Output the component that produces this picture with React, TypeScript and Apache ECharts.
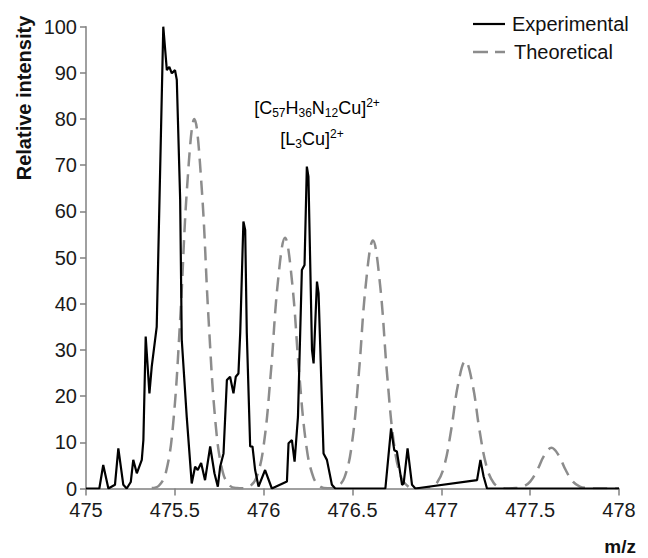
import React, { useEffect, useRef } from "react";
import * as echarts from "echarts";

// Measured spectrum (m/z, relative intensity)
const expMz = [
  475.0, 475.075, 475.097, 475.126, 475.163, 475.182, 475.21, 475.229, 475.252, 475.266,
  475.286, 475.314, 475.323, 475.336, 475.357, 475.37, 475.398, 475.435, 475.455, 475.469,
  475.483, 475.501, 475.511, 475.53, 475.539, 475.567, 475.595, 475.614, 475.629, 475.648,
  475.67, 475.699, 475.723, 475.742, 475.755, 475.774, 475.793, 475.811, 475.83, 475.843,
  475.858, 475.868, 475.886, 475.896, 475.905, 475.924, 475.937, 475.952, 475.971, 476.008,
  476.046, 476.131, 476.14, 476.159, 476.174, 476.193, 476.215, 476.23, 476.243, 476.252,
  476.272, 476.281, 476.3, 476.309, 476.337, 476.356, 476.384, 476.403, 476.685, 476.717,
  476.735, 476.75, 476.779, 476.788, 476.81, 476.835, 476.854, 477.201, 477.22, 477.238,
  477.257, 478.0,
];
const expIntensity = [
  0, 0, 5.1, 0, 0.8, 8.7, 0.8, 0, 1.4, 6.2,
  3.3, 6.2, 10.5, 32.9, 20.6, 26.4, 35, 100, 90.6, 91.3,
  89.9, 90.6, 88.5, 62.5, 32.2, 15.5, 1.1, 4.7, 4, 5.5,
  1.8, 9.1, 3.3, 0.4, 4.7, 7.6, 23.5, 24.2, 20.6, 24.2,
  24.9, 33.7, 57.8, 56, 33.7, 9.1, 9.1, 4, 0.4, 4,
  0, 1.5, 9.8, 10.5, 5.8, 15.5, 47.3, 48.4, 69.7, 67.5,
  30, 27.1, 44.8, 42.3, 7.6, 6.2, 0.8, 0, 0, 13,
  8.3, 8, 0.8, 1.1, 8.7, 0.8, 0, 1.8, 6.2, 2.6,
  0, 0,
];

// Simulated isotope pattern for [C57H36N12Cu]2+
const theoMz = [
  475.37, 475.41, 475.45, 475.49, 475.53, 475.57, 475.61, 475.65, 475.69, 475.73, 475.77, 475.81, 475.85,
  475.88, 475.92, 475.96, 476.0, 476.04, 476.08, 476.12, 476.16, 476.2, 476.24, 476.28, 476.32, 476.36,
  476.375, 476.415, 476.455, 476.495, 476.535, 476.575, 476.615, 476.655, 476.695, 476.735, 476.775, 476.815, 476.855,
  476.895, 476.935, 476.975, 477.015, 477.055, 477.095, 477.135, 477.175, 477.215, 477.255, 477.295, 477.335, 477.375,
  477.38, 477.42, 477.46, 477.5, 477.54, 477.58, 477.62, 477.66, 477.7, 477.74, 477.78, 477.82, 477.86,
  478.0,
];
const theoIntensity = [
  0.1, 0.6, 3.5, 13.8, 36.6, 65.8, 80, 65.8, 36.6, 13.8, 3.5, 0.6, 0.1,
  0.05, 0.4, 2.4, 9.3, 24.9, 44.7, 54.3, 44.7, 24.9, 9.3, 2.4, 0.4, 0.05,
  0.05, 0.4, 2.4, 9.2, 24.6, 44.2, 53.7, 44.2, 24.6, 9.2, 2.4, 0.4, 0.05,
  0, 0.2, 1.2, 4.7, 12.6, 22.7, 27.6, 22.7, 12.6, 4.7, 1.2, 0.2, 0,
  0, 0.1, 0.4, 1.5, 4.0, 7.2, 8.8, 7.2, 4.0, 1.5, 0.4, 0.1, 0,
  0,
];

const yTicks = [0, 10, 20, 30, 40, 50, 60, 70, 80, 90, 100];

const FONT = "'Liberation Sans', Arial, Helvetica, sans-serif";
const AXIS_GRAY = "#808080";
const THEO_GRAY = "#8c8c8c";

export default function App() {
  const ref = useRef<HTMLDivElement>(null);

  useEffect(() => {
    document.body.style.margin = "0";
    if (!ref.current) return;
    const chart = echarts.init(ref.current, undefined, { renderer: "svg" });

    const expData = expMz.map((m, i) => [m, expIntensity[i]]);
    const theoData = theoMz.map((m, i) => [m, theoIntensity[i]]);

    const rich = {
      m: { fontSize: 18, lineHeight: 22, fontFamily: FONT, color: "#1a1a1a" },
      sub: { fontSize: 12, lineHeight: 12, verticalAlign: "bottom", fontFamily: FONT, color: "#1a1a1a" },
      sup: { fontSize: 12, lineHeight: 8, verticalAlign: "top", fontFamily: FONT, color: "#1a1a1a" },
    };

    chart.setOption({
      animation: false,
      backgroundColor: "#ffffff",
      grid: { left: 86, right: 29, top: 26.7, bottom: 69.5, containLabel: false },
      xAxis: {
        type: "value",
        min: 475,
        max: 478,
        interval: 0.5,
        axisLine: { show: true, onZero: false, lineStyle: { color: AXIS_GRAY, width: 1.5 } },
        axisTick: { show: true, inside: false, length: 7, lineStyle: { color: AXIS_GRAY, width: 1.5 } },
        axisLabel: { fontSize: 20, fontFamily: FONT, color: "#1a1a1a", margin: 11 },
        splitLine: { show: false },
      },
      yAxis: {
        type: "value",
        min: yTicks[0],
        max: yTicks[yTicks.length - 1],
        interval: 10,
        axisLine: { show: true, lineStyle: { color: AXIS_GRAY, width: 1.5 } },
        axisTick: { show: true, inside: false, length: 6, lineStyle: { color: AXIS_GRAY, width: 1.5 } },
        axisLabel: { fontSize: 20, fontFamily: FONT, color: "#1a1a1a", margin: 9 },
        splitLine: { show: false },
      },
      series: [
        {
          name: "Theoretical",
          type: "line",
          data: theoData,
          showSymbol: false,
          smooth: 0.4,
          lineStyle: { color: THEO_GRAY, width: 2.5, type: [14, 8] },
          z: 2,
        },
        {
          name: "Experimental",
          type: "line",
          data: expData,
          showSymbol: false,
          lineStyle: { color: "#000000", width: 2.2 },
          z: 3,
        },
      ],
      graphic: [
        {
          type: "text",
          x: 24,
          y: 98,
          rotation: Math.PI / 2,
          style: {
            text: "Relative intensity",
            font: `bold 20px ${FONT}`,
            fill: "#111",
            align: "center",
            verticalAlign: "middle",
          },
        },
        {
          type: "text",
          x: 636,
          y: 546,
          style: {
            text: "m/z",
            font: `bold 19px ${FONT}`,
            fill: "#111",
            align: "right",
            verticalAlign: "middle",
          },
        },
        {
          type: "line",
          shape: { x1: 473, y1: 24, x2: 505, y2: 24 },
          style: { stroke: "#000", lineWidth: 2.2 },
        },
        {
          type: "text",
          x: 512,
          y: 24,
          style: { text: "Experimental", font: `20px ${FONT}`, fill: "#111", verticalAlign: "middle" },
        },
        {
          type: "line",
          shape: { x1: 473, y1: 52, x2: 505, y2: 52 },
          style: { stroke: THEO_GRAY, lineWidth: 2.5, lineDash: [15, 7] },
        },
        {
          type: "text",
          x: 514,
          y: 52,
          style: { text: "Theoretical", font: `20px ${FONT}`, fill: "#111", verticalAlign: "middle" },
        },
        {
          type: "text",
          x: 317,
          y: 108,
          style: {
            text: "{m|[C}{sub|57}{m|H}{sub|36}{m|N}{sub|12}{m|Cu]}{sup|2+}",
            rich,
            align: "center",
            verticalAlign: "middle",
          },
        },
        {
          type: "text",
          x: 312,
          y: 139,
          style: {
            text: "{m|[L}{sub|3}{m|Cu]}{sup|2+}",
            rich,
            align: "center",
            verticalAlign: "middle",
          },
        },
      ],
    });

    return () => chart.dispose();
  }, []);

  return <div ref={ref} style={{ width: 648, height: 558 }} />;
}
